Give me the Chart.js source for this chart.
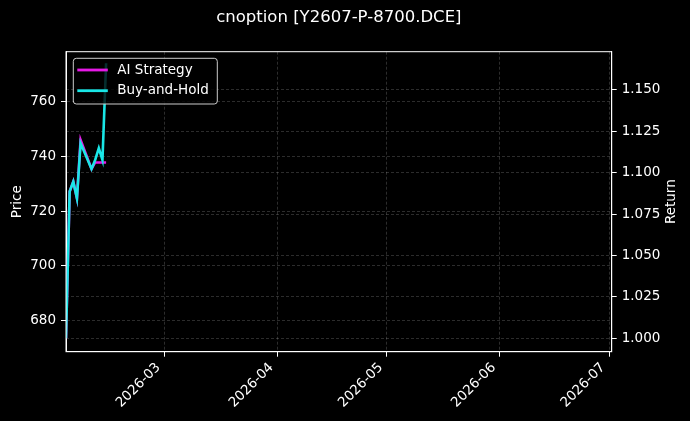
<!DOCTYPE html>
<html lang="en">
<head>
    <meta charset="UTF-8">
    <title>cnoption [Y2607-P-8700.DCE]</title>
    <script src="https://cdn.jsdelivr.net/npm/chart.js@4"></script>
    <style>
        html, body { margin: 0; padding: 0; background: #000; }
        #wrap { width: 690px; height: 421px; }
    </style>
</head>
<body>
    <div id="wrap"><canvas id="myChart"></canvas></div>

    <script>
        const chartTitle = 'cnoption [Y2607-P-8700.DCE]';
        const dates = ['2026-02-02', '2026-02-03', '2026-02-04', '2026-02-05', '2026-02-06',
                       '2026-02-09', '2026-02-10', '2026-02-11', '2026-02-12', '2026-02-13'];
        const aiStrategy = [1.000, 1.0886, 1.0946, 1.0846, 1.1198, 1.1023, 1.1062, 1.1062, 1.1062, 1.1062];
        const buyAndHold = [1.000, 1.0886, 1.0946, 1.0846, 1.1178, 1.1023, 1.1077, 1.1148, 1.1077, 1.1661];
        const monthTicks = ['2026-03-01', '2026-04-01', '2026-05-01', '2026-06-01', '2026-07-01'];
        const priceTicks = [680, 700, 720, 740, 760];
        const returnTicks = [1.000, 1.025, 1.050, 1.075, 1.100, 1.125, 1.150];

        // axis limits
        const xStart = '2026-02-02', xEnd = '2026-07-01T17:00:00Z';
        const priceMin = 668.6, priceMax = 778.3;
        const returnMin = 0.9919, returnMax = 1.1731;

        const toPoints = vals => vals.map((v, i) => ({ x: Date.parse(dates[i]), y: v }));
        const pad2 = n => (n < 10 ? '0' : '') + n;

        Chart.defaults.font.family = "'DejaVu Sans', sans-serif";
        Chart.defaults.color = '#fff';

        const gridColor = 'rgba(255,255,255,0.22)';
        const tickFont = { size: 13.5 };

        const background = {
            id: 'background',
            beforeDraw(chart) {
                const c = chart.ctx;
                c.save();
                c.fillStyle = '#000';
                c.fillRect(0, 0, chart.width, chart.height);
                c.restore();
            }
        };

        // frame, legend box, title and right axis label, matplotlib style
        const decorations = {
            id: 'decorations',
            afterDatasetsDraw(chart) {
                const c = chart.ctx, a = chart.chartArea;
                c.save();
                c.strokeStyle = '#fff';
                c.lineWidth = 1;
                c.strokeRect(a.left, a.top, a.right - a.left, a.bottom - a.top);

                const x = a.left + 7.3, y = a.top + 6.6, w = 144, h = 45.7, r = 3;
                c.beginPath();
                c.moveTo(x + r, y);
                c.arcTo(x + w, y, x + w, y + h, r);
                c.arcTo(x + w, y + h, x, y + h, r);
                c.arcTo(x, y + h, x, y, r);
                c.arcTo(x, y, x + w, y, r);
                c.closePath();
                c.fillStyle = 'rgba(0,0,0,0.8)';
                c.fill();
                c.strokeStyle = '#ccc';
                c.stroke();

                c.font = "13.5px 'DejaVu Sans', sans-serif";
                c.textBaseline = 'middle';
                chart.data.datasets.forEach((ds, i) => {
                    const ly = y + 11.7 + i * 20.7;
                    c.strokeStyle = ds.borderColor;
                    c.lineWidth = 2.8;
                    c.beginPath();
                    c.moveTo(x + 4, ly);
                    c.lineTo(x + 34.5, ly);
                    c.stroke();
                    c.fillStyle = '#fff';
                    c.fillText(ds.label, x + 44, ly);
                });

                c.textAlign = 'center';
                c.save();
                c.translate(chart.width - 18.3, (a.top + a.bottom) / 2);
                c.rotate(-Math.PI / 2);
                c.fillText('Return', 0, 0);
                c.restore();

                c.font = "16.5px 'DejaVu Sans', sans-serif";
                c.fillText(chartTitle, (a.left + a.right) / 2, 18);
                c.restore();
            }
        };

        var ctx = document.getElementById('myChart').getContext('2d');
        var myChart = new Chart(ctx, {
            type: 'line',
            data: {
                datasets: [{
                    label: 'AI Strategy',
                    data: toPoints(aiStrategy),
                    borderColor: '#e619e6',
                    borderWidth: 2.6,
                    pointRadius: 0,
                    fill: false,
                    yAxisID: 'y1',
                    order: 1
                }, {
                    label: 'Buy-and-Hold',
                    data: toPoints(buyAndHold),
                    borderColor: '#19e6e6',
                    borderWidth: 2.6,
                    pointRadius: 0,
                    fill: false,
                    yAxisID: 'y1',
                    order: 0
                }]
            },
            options: {
                responsive: true,
                maintainAspectRatio: false,
                animation: false,
                layout: { padding: { top: 51.7, left: 0, right: 0, bottom: 0 } },
                plugins: {
                    legend: { display: false },
                    title: { display: false },
                    tooltip: { enabled: false }
                },
                scales: {
                    x: {
                        type: 'linear',
                        min: Date.parse(xStart),
                        max: Date.parse(xEnd),
                        afterFit: s => { s.height = 69.3; },
                        afterBuildTicks: s => { s.ticks = monthTicks.map(d => ({ value: Date.parse(d) })); },
                        ticks: {
                            font: tickFont,
                            maxRotation: 45,
                            minRotation: 45,
                            autoSkip: false,
                            padding: 3,
                            labelOffset: -6,
                            callback: v => {
                                const d = new Date(v);
                                return d.getUTCFullYear() + '-' + pad2(d.getUTCMonth() + 1);
                            }
                        },
                        grid: { color: gridColor, lineWidth: 0.8, tickColor: '#fff', tickLength: 5, tickWidth: 1 },
                        border: { color: '#fff', width: 1, dash: [3, 2] }
                    },
                    y: {
                        type: 'linear',
                        position: 'left',
                        min: priceMin,
                        max: priceMax,
                        afterFit: s => { s.width = 66; },
                        afterBuildTicks: s => { s.ticks = priceTicks.map(v => ({ value: v })); },
                        ticks: { font: tickFont, padding: 5, callback: v => v.toFixed(0) },
                        title: { display: true, text: 'Price', font: tickFont, padding: { top: 9 } },
                        grid: { color: gridColor, lineWidth: 0.8, tickColor: '#fff', tickLength: 5, tickWidth: 1 },
                        border: { color: '#fff', width: 1, dash: [3, 2] }
                    },
                    y1: {
                        type: 'linear',
                        position: 'right',
                        min: returnMin,
                        max: returnMax,
                        afterFit: s => { s.width = 78.3; },
                        afterBuildTicks: s => { s.ticks = returnTicks.map(v => ({ value: v })); },
                        ticks: { font: tickFont, padding: 5, callback: v => v.toFixed(3) },
                        grid: { color: gridColor, lineWidth: 0.8, tickColor: '#fff', tickLength: 5, tickWidth: 1 },
                        border: { color: '#fff', width: 1, dash: [3, 2] }
                    }
                }
            },
            plugins: [background, decorations]
        });
    </script>
</body>
</html>
